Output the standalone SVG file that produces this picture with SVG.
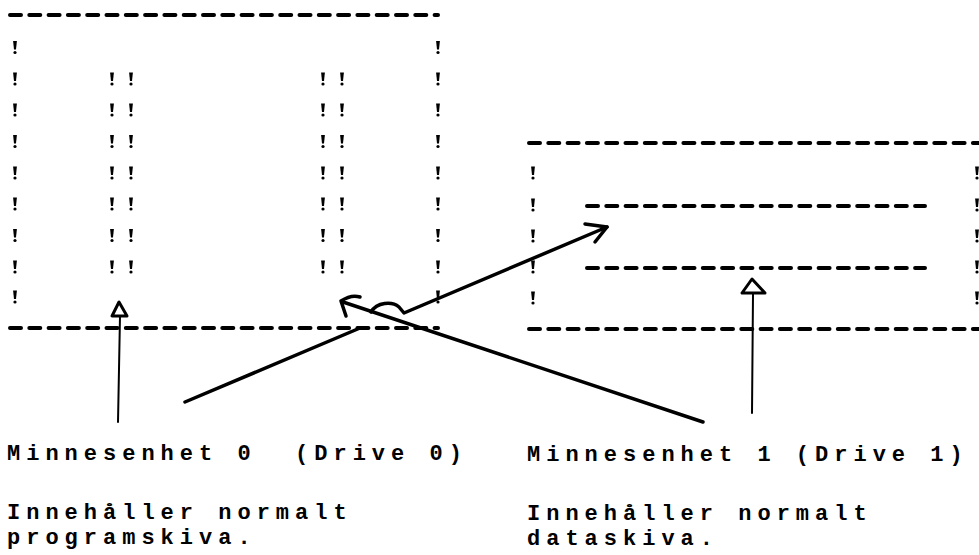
<svg xmlns="http://www.w3.org/2000/svg" xmlns:xlink="http://www.w3.org/1999/xlink" width="979" height="555" viewBox="0 0 979 555">
<style>
.dash{stroke:#000;stroke-width:4;stroke-linecap:round;stroke-dasharray:11 8.3;fill:none}
.lbl{font-family:"Liberation Mono","DejaVu Sans Mono",monospace;font-size:22px;font-weight:bold;letter-spacing:6px;fill:#000}
.thin{stroke:#000;stroke-width:2;fill:none;stroke-linecap:round}
.thick{stroke:#000;stroke-width:3.5;fill:none;stroke-linecap:round;stroke-linejoin:round}
.head{stroke:#000;stroke-width:3;fill:#fff;stroke-linejoin:round}
</style>
<defs>
<g id="bang"><polygon points="-1.9,-6.5 1.9,-6.5 1,2 -1,2" fill="#000"/><circle cx="0" cy="5" r="1.6" fill="#000"/></g>
</defs>
<rect width="979" height="555" fill="#fff"/>
<g id="drive0">
<line class="dash" x1="10" y1="15" x2="438" y2="15"/>
<line class="dash" x1="10" y1="328" x2="438" y2="328"/>
<g id="drive0-left">
<use xlink:href="#bang" x="15" y="47.5"/><use xlink:href="#bang" x="15" y="79"/><use xlink:href="#bang" x="15" y="110"/><use xlink:href="#bang" x="15" y="141.5"/><use xlink:href="#bang" x="15" y="173"/><use xlink:href="#bang" x="15" y="204"/><use xlink:href="#bang" x="15" y="235.5"/><use xlink:href="#bang" x="15" y="267"/><use xlink:href="#bang" x="15" y="297"/>
</g>
<g id="drive0-right">
<use xlink:href="#bang" x="438" y="47.5"/><use xlink:href="#bang" x="438" y="79"/><use xlink:href="#bang" x="438" y="110"/><use xlink:href="#bang" x="438" y="141.5"/><use xlink:href="#bang" x="438" y="173"/><use xlink:href="#bang" x="438" y="204"/><use xlink:href="#bang" x="438" y="235.5"/><use xlink:href="#bang" x="438" y="267"/><use xlink:href="#bang" x="438" y="297"/>
</g>
<g id="drive0-slot1">
<use xlink:href="#bang" x="112" y="79"/><use xlink:href="#bang" x="112" y="110"/><use xlink:href="#bang" x="112" y="141.5"/><use xlink:href="#bang" x="112" y="173"/><use xlink:href="#bang" x="112" y="204"/><use xlink:href="#bang" x="112" y="235.5"/><use xlink:href="#bang" x="112" y="267"/>
<use xlink:href="#bang" x="131" y="79"/><use xlink:href="#bang" x="131" y="110"/><use xlink:href="#bang" x="131" y="141.5"/><use xlink:href="#bang" x="131" y="173"/><use xlink:href="#bang" x="131" y="204"/><use xlink:href="#bang" x="131" y="235.5"/><use xlink:href="#bang" x="131" y="267"/>
</g>
<g id="drive0-slot2">
<use xlink:href="#bang" x="323" y="79"/><use xlink:href="#bang" x="323" y="110"/><use xlink:href="#bang" x="323" y="141.5"/><use xlink:href="#bang" x="323" y="173"/><use xlink:href="#bang" x="323" y="204"/><use xlink:href="#bang" x="323" y="235.5"/><use xlink:href="#bang" x="323" y="267"/>
<use xlink:href="#bang" x="342" y="79"/><use xlink:href="#bang" x="342" y="110"/><use xlink:href="#bang" x="342" y="141.5"/><use xlink:href="#bang" x="342" y="173"/><use xlink:href="#bang" x="342" y="204"/><use xlink:href="#bang" x="342" y="235.5"/><use xlink:href="#bang" x="342" y="267"/>
</g>
</g>
<g id="drive1">
<line class="dash" x1="529" y1="143" x2="985" y2="143"/>
<line class="dash" x1="529" y1="329" x2="985" y2="329"/>
<line class="dash" x1="587" y1="206" x2="925" y2="206"/>
<line class="dash" x1="587" y1="268" x2="925" y2="268"/>
<g id="drive1-left">
<use xlink:href="#bang" x="533" y="173"/><use xlink:href="#bang" x="533" y="205"/><use xlink:href="#bang" x="533" y="236"/><use xlink:href="#bang" x="533" y="267"/><use xlink:href="#bang" x="533" y="298"/>
</g>
<g id="drive1-right">
<use xlink:href="#bang" x="977" y="173"/><use xlink:href="#bang" x="977" y="205"/><use xlink:href="#bang" x="977" y="236"/><use xlink:href="#bang" x="977" y="267"/><use xlink:href="#bang" x="977" y="298"/>
</g>
</g>
<g id="connectors">
<line class="thin" x1="118" y1="422" x2="120" y2="316"/>
<path class="head" d="M119,302 L112,316 L127,316 Z"/>
<line class="thick" x1="185" y1="402" x2="360" y2="328"/>
<line class="thick" x1="703" y1="422" x2="343" y2="302"/>
<path class="thick" d="M341,301 C347,297 354,295 360,297 M341,301 L346,316"/>
<path class="thick" d="M371,312 C377,302 392,301 399,307 L404,313 L607,227"/>
<path class="thick" d="M585,224 L607,227 L595,242"/>
<line class="thin" x1="752" y1="413" x2="753" y2="294"/>
<path class="head" d="M752,279 L742,293 L765,293 Z"/>
</g>
<g id="label-drive0">
<text class="lbl" x="7" y="460" xml:space="preserve">Minnesenhet 0  (Drive 0)</text>
<text class="lbl" x="7" y="519">Innehåller normalt</text>
<text class="lbl" x="7" y="544">programskiva.</text>
</g>
<g id="label-drive1">
<text class="lbl" x="527" y="461">Minnesenhet 1 (Drive 1)</text>
<text class="lbl" x="527" y="520">Innehåller normalt</text>
<text class="lbl" x="527" y="545">dataskiva.</text>
</g>
</svg>
